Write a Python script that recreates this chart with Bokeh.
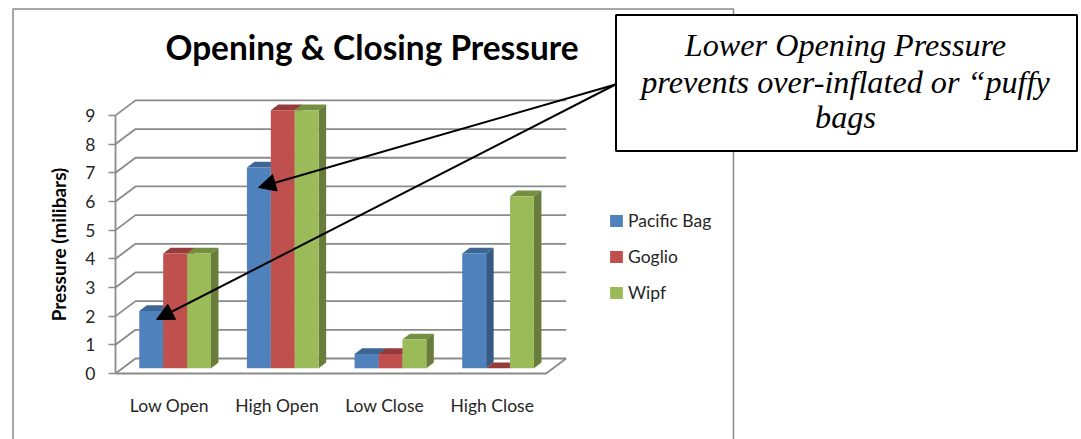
from bokeh.plotting import figure
from bokeh.models import Range1d, FixedTicker, Legend, LegendItem, BoxAnnotation, Label, Arrow, NormalHead, LinearAxis
from bokeh.embed import file_html
from bokeh.resources import INLINE

categories = ["Low Open", "High Open", "Low Close", "High Close"]
series_names = ["Pacific Bag", "Goglio", "Wipf"]
pacific_bag = [2, 7, 0.5, 4]
goglio = [4, 9, 0.5, 0]
wipf = [4, 9, 1, 6]
y_ticks = [0, 1, 2, 3, 4, 5, 6, 7, 8, 9]
title_text = "Opening & Closing Pressure"
y_title = "Pressure (milibars)"
callout_lines = ["Lower Opening Pressure", "prevents over-inflated or \u201cpuffy", "bags"]

FW, FH = 1081, 439
LEFT, BOTTOM_PX = 115.0, 373.0   # canvas pixels of the plot origin
UX, UY = 107.65, 28.68           # pixels per category / per unit
def px(x): return -0.5 + (x - LEFT) / UX
def py(y): return (BOTTOM_PX - y) / UY

p = figure(width=FW, height=FH, output_backend="svg", toolbar_location=None,
           x_range=Range1d(px(0), px(FW)), y_range=Range1d(py(FH), py(0)),
           x_axis_location=None, y_axis_location=None,
           min_border=0, outline_line_color=None, background_fill_color="white")
p.grid.visible = False

FONT = "Lato"
GRID = "#8a8a8a"
TEXT = "#262626"
TICK_SIZE = "17.5px"

ax = LinearAxis(fixed_location=-0.5, ticker=FixedTicker(ticks=y_ticks), bounds=(0, 9))
ax.axis_line_color = GRID
ax.axis_line_width = 1.8
ax.major_tick_line_color = GRID
ax.major_tick_line_width = 1.5
ax.major_tick_in = 0
ax.major_tick_out = 7
ax.minor_tick_line_color = None
ax.major_label_text_font = FONT
ax.major_label_text_font_size = TICK_SIZE
ax.major_label_text_color = TEXT
ax.major_label_standoff = 13
ax.axis_label = y_title
ax.axis_label_text_font = FONT
ax.axis_label_text_font_size = "19px"
ax.axis_label_text_font_style = "bold"
ax.axis_label_text_color = "black"
ax.axis_label_standoff = 12
p.add_layout(ax, "left")

bx = LinearAxis(fixed_location=0, ticker=FixedTicker(ticks=list(range(len(categories)))), bounds=(-0.5, 3.5))
bx.major_label_overrides = {i: c for i, c in enumerate(categories)}
bx.axis_line_color = GRID
bx.axis_line_width = 1.8
bx.major_tick_line_color = None
bx.minor_tick_line_color = None
bx.major_label_text_font = FONT
bx.major_label_text_font_size = TICK_SIZE
bx.major_label_text_color = TEXT
bx.major_label_standoff = 15
p.add_layout(bx, "below")

# chart walls
WDX, WDY = 20 / UX, 15 / UY
wall_right = 3.5 + WDX
for v in y_ticks:
    p.line([-0.5, -0.5 + WDX, wall_right], [v, v + WDY, v + WDY], line_color=GRID, line_width=1.8)
p.line([3.5, wall_right], [0, WDY], line_color=GRID, line_width=1.8)

# 3D columns
DX, DY = 7.5 / UX, 5.8 / UY
BASE = 5.2 / UY
BW = 23.9 / UX
START = -0.279
front = ["#4F81BD", "#C0504D", "#9BBB59"]
top = ["#3D6595", "#953B39", "#748F42"]
side = ["#375A85", "#8A3836", "#687C3B"]
renderers = []
for s, vals in enumerate([pacific_bag, goglio, wipf]):
    lefts = [i + START + s * BW for i in range(len(vals))]
    rights = [l + BW for l in lefts]
    tops = [BASE + v for v in vals]
    p.patches([[l, r, r + DX, l + DX] for l, r in zip(lefts, rights)],
              [[t_, t_, t_ + DY, t_ + DY] for t_ in tops], fill_color=top[s], line_color=None)
    p.patches([[r, r + DX, r + DX, r] for r in rights],
              [[BASE, BASE + DY, t_ + DY, t_] for t_ in tops], fill_color=side[s], line_color=None)
    renderers.append(p.quad(left=lefts, right=rights, bottom=[BASE] * len(vals), top=tops,
                            fill_color=front[s], line_color=None))

legend = Legend(items=[LegendItem(label=n, renderers=[r]) for n, r in zip(series_names, renderers)],
                location=(608, 136), orientation="vertical", border_line_color=None,
                background_fill_alpha=0, glyph_width=16, glyph_height=15, spacing=15,
                label_text_font=FONT, label_text_font_size=TICK_SIZE, label_text_color=TEXT,
                padding=0, margin=0, label_standoff=4)
p.add_layout(legend, "center")

p.add_layout(Label(x=px(371.5), y=py(46.5), text=title_text, text_font=FONT, text_font_size="33.4px",
                   text_font_style="bold", text_color="black", text_align="center", text_baseline="middle"))

# outer chart border, running off the bottom of the page
p.add_layout(BoxAnnotation(left=px(12.5), right=px(733), top=py(8.5), bottom=py(470),
                           fill_alpha=0, line_color=GRID, line_alpha=1, line_width=1.5))

# callout
p.add_layout(BoxAnnotation(left=px(615.5), right=px(1076.5), top=py(14.5), bottom=py(150.5),
                           fill_color="white", fill_alpha=1, line_color="black", line_alpha=1, line_width=2))
for line, y in zip(callout_lines, [44, 81, 116]):
    p.add_layout(Label(x=px(845), y=py(y), text=line, text_font="Liberation Serif",
                       text_font_style="italic", text_font_size="32.2px", text_color="black",
                       text_align="center", text_baseline="middle"))
for tip in [(258, 187), (156, 319)]:
    p.add_layout(Arrow(x_start=px(615), y_start=py(84), x_end=px(tip[0]), y_end=py(tip[1]),
                       line_color="black", line_width=2,
                       end=NormalHead(size=17, fill_color="black", line_color="black")))

open("out.html", "w").write(file_html(p, INLINE))
